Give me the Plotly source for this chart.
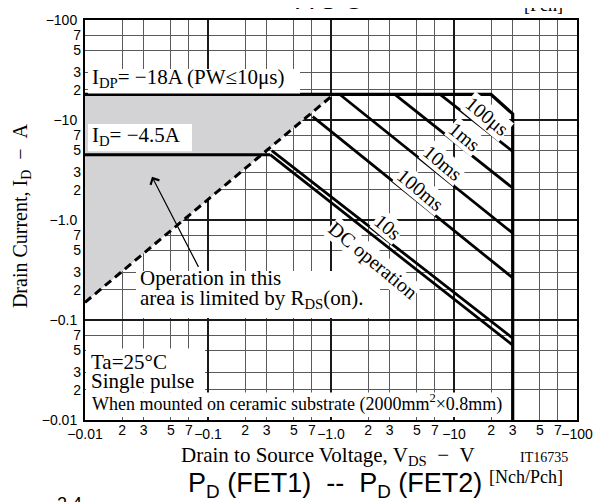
import plotly.graph_objects as go

# ---------------- data ----------------
x_major_vals = [0.01, 0.1, 1, 10, 100]
x_major_text = ["\u22120.01", "\u22120.1", "\u22121.0", "\u221210", "\u2212100"]
x_minor_vals = [0.02, 0.03, 0.05, 0.07, 0.2, 0.3, 0.5, 0.7, 2, 3, 5, 7, 20, 30, 50, 70]
x_minor_text = ["2", "3", "5", "7", "2", "3", "5", "7", "2", "3", "5", "7", "2", "3", "5", "7"]
y_major_vals = [0.01, 0.1, 1, 10, 100]
y_major_text = ["\u22120.01", "\u22120.1", "\u22121.0", "\u221210", "\u2212100"]
y_minor_vals = [0.02, 0.03, 0.05, 0.07, 0.2, 0.3, 0.5, 0.7, 2, 3, 5, 7, 20, 30, 50, 70]
y_minor_text = ["2", "3", "5", "7", "2", "3", "5", "7", "2", "3", "5", "7", "2", "3", "5", "7"]

# limited-by-RDS(on) region
gray_v = [0.01, 1.05, 0.01]
gray_i = [0.15, 18, 18]
rds_v = [0.01, 1.05]
rds_i = [0.15, 18]
# IDP (PW<=10us) boundary
idp_v = [0.01, 20, 30, 30]
idp_i = [18, 18, 11.5, 0.01]
# ID continuous
id_v = [0.01, 0.32]
id_i = [4.5, 4.5]
# pulse-width lines
t100us_v = [7.7, 30]
t100us_i = [18, 4.85]
t1ms_v = [3.3, 30]
t1ms_i = [18, 2.09]
t10ms_v = [1.18, 30]
t10ms_i = [18, 0.74]
t100ms_v = [0.71, 30]
t100ms_i = [10.8, 0.264]
t10s_v = [0.33, 30]
t10s_i = [4.95, 0.066]
dc_v = [0.32, 30]
dc_i = [4.5, 0.056]

SERIF = "Liberation Serif"
SANS = "Liberation Sans"

fig = go.Figure()
# helper traces so the overlay label axes get drawn
fig.add_trace(go.Scatter(x=rds_v, y=rds_i, xaxis="x2", yaxis="y", mode="markers",
                         marker=dict(opacity=0), hoverinfo="skip"))
fig.add_trace(go.Scatter(x=rds_v, y=rds_i, xaxis="x", yaxis="y2", mode="markers",
                         marker=dict(opacity=0), hoverinfo="skip"))
fig.add_trace(go.Scatter(x=gray_v, y=gray_i, mode="lines", fill="toself",
                         fillcolor="#d3d3d5", line=dict(width=0), hoverinfo="skip"))
fig.add_trace(go.Scatter(x=rds_v, y=rds_i, mode="lines",
                         line=dict(color="black", width=3, dash="8px,5px")))
for vv, ii, w in [(idp_v, idp_i, 3.2), (id_v, id_i, 3), (t100us_v, t100us_i, 2.8),
                  (t1ms_v, t1ms_i, 2.8), (t10ms_v, t10ms_i, 2.8), (t100ms_v, t100ms_i, 2.8),
                  (t10s_v, t10s_i, 2.8), (dc_v, dc_i, 2.8)]:
    fig.add_trace(go.Scatter(x=vv, y=ii, mode="lines",
                             line=dict(color="black", width=w)))

# plot area in window pixels (page body adds an 8px offset)
OFF = 8
L, R, T, B = 85, 577, 12, 420
W, H = 601, 502
def px(x):
    return (x - L) / (R - L)
def py(y):
    return (B - y) / (B - T)

shapes = []
def wbox(x0, x1, y0, y1):
    shapes.append(dict(type="rect", xref="paper", yref="paper", x0=px(x0), x1=px(x1),
                       y0=py(y1), y1=py(y0), fillcolor="white", line=dict(width=0),
                       layer="above"))
wbox(88, 300, 62, 87)
wbox(88, 192, 118, 146)
wbox(136, 380, 268, 316)
wbox(86, 205, 347, 392)
wbox(86, 507, 392, 417)

ann = []
def txt(text, x, y, size, family=SERIF, xanchor="left", yanchor="middle", angle=0, bg=None):
    d = dict(text=text, xref="paper", yref="paper", x=px(x), y=py(y), xanchor=xanchor,
             yanchor=yanchor, showarrow=False, textangle=angle,
             font=dict(family=family, size=size, color="black"), borderpad=0)
    if bg:
        d["bgcolor"] = bg
    ann.append(d)

txt("I<sub>DP</sub>= \u221218A (PW\u226410\u03bcs)", 91, 71, 21)
txt("I<sub>D</sub>= \u22124.5A", 91, 130, 21)
txt("Operation in this", 139, 275, 21)
txt("area is limited by R<sub>DS</sub>(on).", 139, 297, 21)
txt("Ta=25\u00b0C", 90, 360.5, 21)
txt("Single pulse", 90, 380.5, 21)
txt("When mounted on ceramic substrate (2000mm<sup>2</sup>\u00d70.8mm)", 91, 402.5, 18)

ang = 39.7
txt("100\u03bcs", 487, 110, 20, xanchor="center", angle=ang, bg="white")
txt("1ms", 465, 131, 20, xanchor="center", angle=ang, bg="white")
txt("10ms", 443, 158, 20, xanchor="center", angle=ang, bg="white")
txt("100ms", 421, 185, 20, xanchor="center", angle=ang, bg="white")
txt("10s", 388, 223, 20, xanchor="center", angle=ang, bg="white")
txt("DC operation", 373, 257, 20, xanchor="center", angle=ang, bg="white")

# arrow
ann.append(dict(text=" ", xref="paper", yref="paper", x=px(152), y=py(172),
                ax=48, ay=93, showarrow=True, arrowhead=4, arrowsize=1.6,
                arrowwidth=1.2, arrowcolor="black", standoff=0,
                font=dict(size=2)))

# outside texts
txt("Drain to Source Voltage, V<sub>DS</sub>\u00a0\u00a0\u2212\u00a0\u00a0V", 180, 457, 21)
txt("IT16735", 519, 458, 14)
txt("P<sub>D</sub> (FET1)\u00a0\u00a0--\u00a0\u00a0P<sub>D</sub> (FET2)", 187, 486, 27, family=SANS)
txt("[Nch/Pch]", 488, 478, 18)
txt("Drain Current, I<sub>D</sub>\u00a0\u00a0\u2212\u00a0\u00a0A", 21, 212, 20, xanchor="center", angle=-90)
txt("A S O", 330, 7.5, 26, family=SANS, xanchor="center", yanchor="bottom")
txt("[Pch]", 543, 8, 18, xanchor="center", yanchor="bottom")
txt("2.4", 69, 494, 18, family=SANS, xanchor="center", yanchor="top")

axis_common = dict(type="log", range=[-2, 2], tickmode="array", ticks="",
                   tickangle=0, zeroline=False, fixedrange=True,
                   tickfont=dict(family=SANS, size=14, color="black"))

fig.update_layout(
    width=W, height=H,
    margin=dict(l=L - OFF, r=W - (R - OFF), t=T - OFF, b=H - (B - OFF)),
    paper_bgcolor="white", plot_bgcolor="white",
    showlegend=False,
    xaxis=dict(**axis_common, tickvals=x_major_vals, ticktext=x_major_text,
               showgrid=True, gridcolor="#1a1a1a", gridwidth=1.6,
               minor=dict(tickmode="array", tickvals=x_minor_vals, showgrid=True,
                          gridcolor="#5a5a5a", gridwidth=1, ticks=""),
               showline=True, linecolor="black", linewidth=2, mirror=True),
    xaxis2=dict(**axis_common, tickvals=x_minor_vals, ticktext=x_minor_text,
                overlaying="x", anchor="y", side="bottom", showgrid=False, showline=False),
    yaxis=dict(**axis_common, tickvals=y_major_vals, ticktext=y_major_text,
               showgrid=True, gridcolor="#1a1a1a", gridwidth=1.6, ticklabelstandoff=3,
               minor=dict(tickmode="array", tickvals=y_minor_vals, showgrid=True,
                          gridcolor="#5a5a5a", gridwidth=1, ticks=""),
               showline=True, linecolor="black", linewidth=2, mirror=True),
    yaxis2=dict(**axis_common, tickvals=y_minor_vals, ticktext=y_minor_text,
                overlaying="y", anchor="x", side="left", showgrid=False, showline=False,
                ticklabelstandoff=3),
    shapes=shapes,
    annotations=ann,
)

fig.write_html("out.html")
